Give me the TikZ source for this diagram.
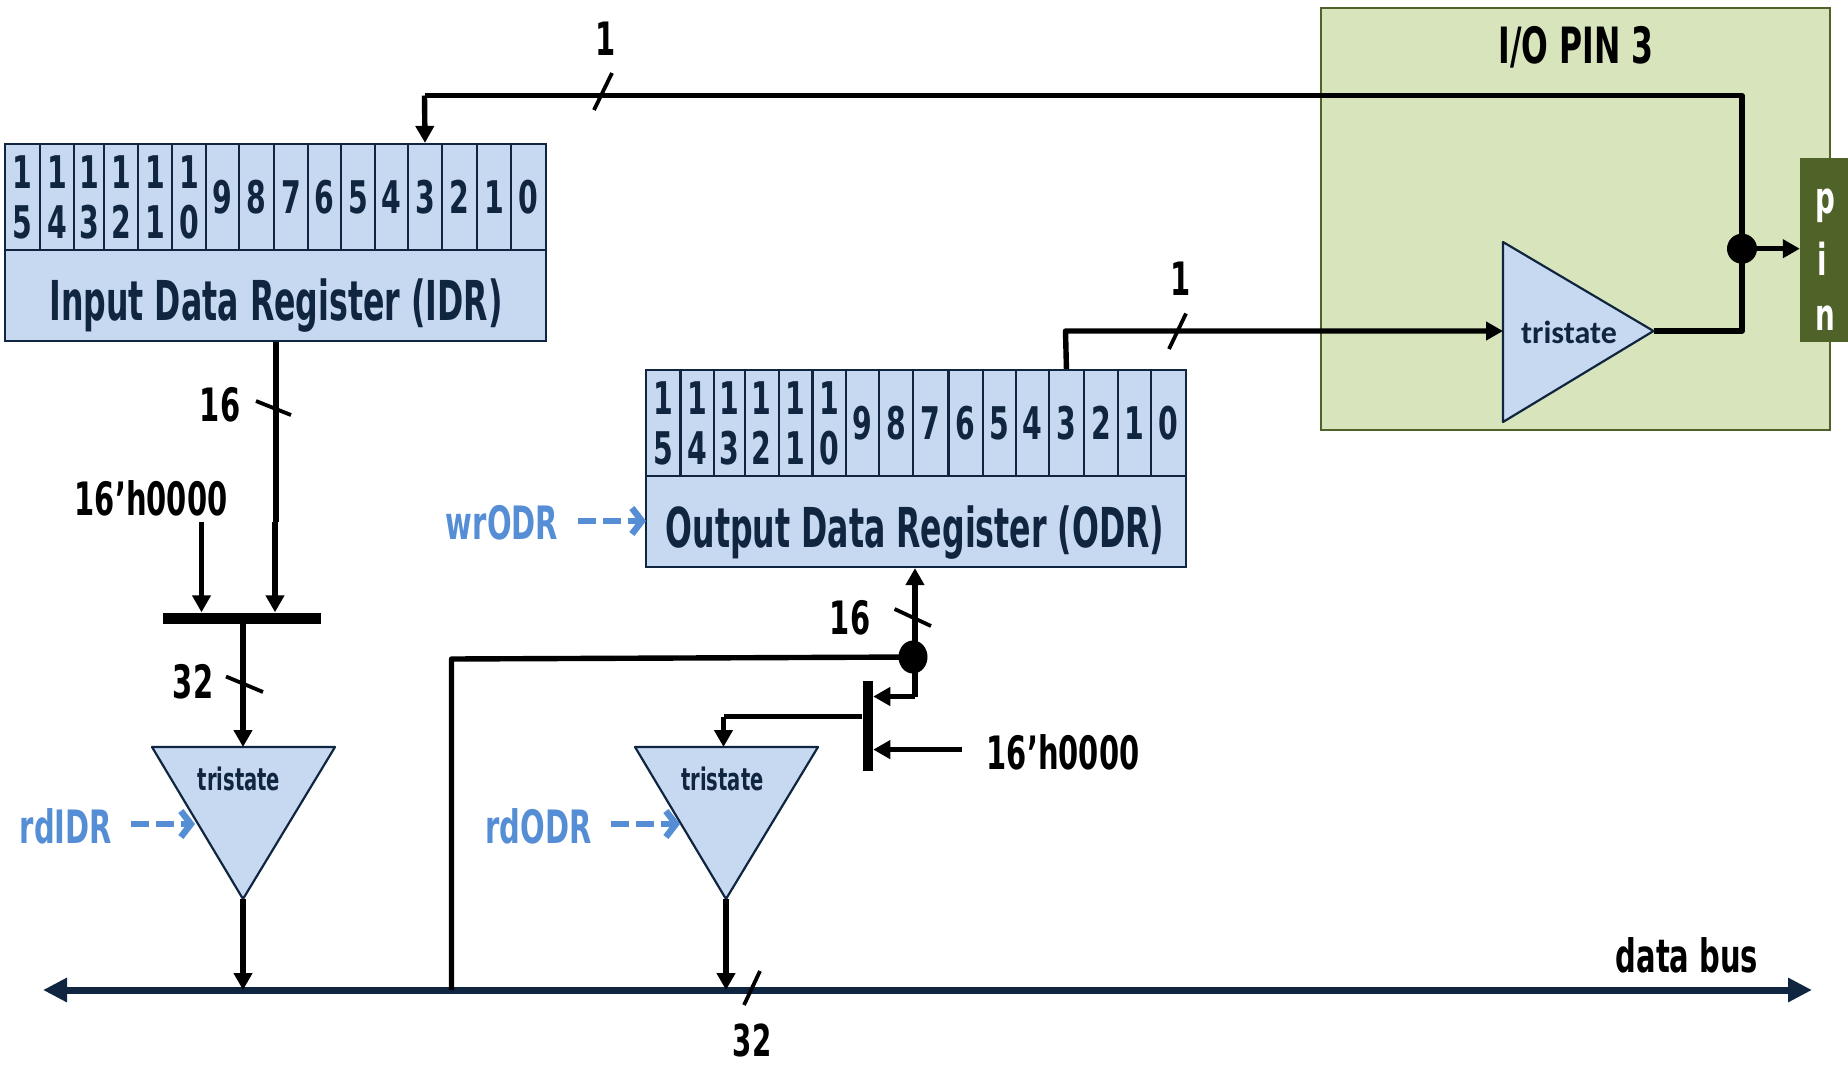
\documentclass[tikz,border=0pt]{standalone}
\usepackage{fontspec}
\usetikzlibrary{arrows.meta}
\setmainfont{DejaVu Sans}
\newfontfamily\cond[FakeStretch=0.63]{DejaVu Sans}
\newfontfamily\condt[FakeStretch=0.575]{DejaVu Sans}
\newfontfamily\calib{Carlito}
\newcommand{\fsz}[1]{\fontsize{#1}{#1}\selectfont}
\definecolor{regfill}{HTML}{C6D9F1}
\definecolor{navy}{HTML}{10253F}
\definecolor{greenfill}{HTML}{D7E4BC}
\definecolor{pingreen}{HTML}{4F6228}
\definecolor{sigblue}{HTML}{558ED5}
\tikzset{
  wire/.style={line width=5.4pt,line join=round},
  arrowwire/.style={wire,-{Triangle[length=17pt,width=18pt]}},
  slashmark/.style={line width=3.8pt},
  dashsig/.style={line width=6.5pt,sigblue,dash pattern=on 18pt off 7pt,-{Straight Barb[length=10pt,width=26pt,line width=6.5pt]},shorten >=1pt},
  regbox/.style={draw=navy,line width=2.2pt,fill=regfill,inner sep=0pt},
  regtitle/.style={text=navy,font=\condt\bfseries\fsz{55},inner sep=0pt,anchor=base},
  celltext/.style={regbox,text=navy,align=center,font=\cond\bfseries\fontsize{45}{50}\selectfont},
  gate/.style={draw=navy,line width=2.2pt,fill=regfill,line join=round},
  blk/.style={text=black,font=\cond\bfseries\fsz{46},inner sep=0pt},
  sig/.style={text=sigblue,font=\cond\bfseries\fsz{46},inner sep=0pt},
  dotnode/.style={fill=black,ellipse,inner sep=0pt,draw=none},
}
\usetikzlibrary{shapes.geometric}
\newcommand{\regcell}[6]{% name x0 x1 y0 y1 text
  \pgfmathsetmacro{\cx}{(#2+#3)/2}\pgfmathsetmacro{\cy}{(#4+#5)/2}
  \pgfmathsetmacro{\cw}{#3-#2}\pgfmathsetmacro{\ch}{#5-#4}
  \node[celltext,minimum width=\cw pt,minimum height=\ch pt] (#1) at (\cx,\cy) {#6};}
\begin{document}
\begin{tikzpicture}[x=1pt,y=-1pt]
\useasboundingbox (0,0) rectangle (1848,1066);
% I/O pin block
\node[draw=pingreen,line width=2.5pt,fill=greenfill,minimum width=509pt,minimum height=422pt,inner sep=0pt] (iopin) at (1575.5,219) {};
\node[blk,font=\cond\bfseries\fsz{50}] (iotitle) at (1576,47) {I/O PIN 3};
\node[fill=pingreen,minimum width=48pt,minimum height=184pt,inner sep=0pt] (pinbox) at (1824,250) {};
\node[text=white,font=\cond\bfseries\fsz{44},inner sep=0pt] (pinp) at (1825,206) {p};
\node[text=white,font=\cond\bfseries\fsz{44},inner sep=0pt] (pini) at (1822,259) {i};
\node[text=white,font=\cond\bfseries\fsz{44},inner sep=0pt] (pinn) at (1825,318) {n};
% IDR
\node[regbox,minimum width=541pt,minimum height=91pt] (idr) at (275.5,295.5) {};
\node[regtitle] (idrtext) at (276,320) {Input Data Register (IDR)};
\def\yA{144}\def\yB{250}
\regcell{ia15}{5}{40}{\yA}{\yB}{1\\5}
\regcell{ia14}{40}{74}{\yA}{\yB}{1\\4}
\regcell{ia13}{74}{104}{\yA}{\yB}{1\\3}
\regcell{ia12}{104}{138}{\yA}{\yB}{1\\2}
\regcell{ia11}{138}{172}{\yA}{\yB}{1\\1}
\regcell{ia10}{172}{206}{\yA}{\yB}{1\\0}
\regcell{ia9}{206}{239}{\yA}{\yB}{9}
\regcell{ia8}{239}{274}{\yA}{\yB}{8}
\regcell{ia7}{274}{308}{\yA}{\yB}{7}
\regcell{ia6}{308}{341}{\yA}{\yB}{6}
\regcell{ia5}{341}{375}{\yA}{\yB}{5}
\regcell{ia4}{375}{408}{\yA}{\yB}{4}
\regcell{ia3}{408}{442}{\yA}{\yB}{3}
\regcell{ia2}{442}{477}{\yA}{\yB}{2}
\regcell{ia1}{477}{511}{\yA}{\yB}{1}
\regcell{ia0}{511}{546}{\yA}{\yB}{0}
% ODR
\node[regbox,minimum width=540.4pt,minimum height=91pt] (odr) at (915.8,521.5) {};
\node[regtitle] (odrtext) at (915,547) {Output Data Register (ODR)};
\def\yA{370}\def\yB{476}
\regcell{oa15}{645.6}{680.5}{\yA}{\yB}{1\\5}
\regcell{oa14}{680.5}{713.9}{\yA}{\yB}{1\\4}
\regcell{oa13}{713.9}{744.7}{\yA}{\yB}{1\\3}
\regcell{oa12}{744.7}{778.6}{\yA}{\yB}{1\\2}
\regcell{oa11}{778.6}{812.5}{\yA}{\yB}{1\\1}
\regcell{oa10}{812.5}{845.8}{\yA}{\yB}{1\\0}
\regcell{oa9}{845.8}{879.2}{\yA}{\yB}{9}
\regcell{oa8}{879.2}{913}{\yA}{\yB}{8}
\regcell{oa7}{913}{948.4}{\yA}{\yB}{7}
\regcell{oa6}{948.4}{982.8}{\yA}{\yB}{6}
\regcell{oa5}{982.8}{1015.7}{\yA}{\yB}{5}
\regcell{oa4}{1015.7}{1049}{\yA}{\yB}{4}
\regcell{oa3}{1049}{1083.9}{\yA}{\yB}{3}
\regcell{oa2}{1083.9}{1118.2}{\yA}{\yB}{2}
\regcell{oa1}{1118.2}{1151}{\yA}{\yB}{1}
\regcell{oa0}{1151}{1186}{\yA}{\yB}{0}
% Coordinates
\coordinate (fbk) at (1742,95.5);
\coordinate (fbl) at (424.5,95.5);
\coordinate (buf) at (1503,331);
\coordinate (bufout) at (1653.5,331);
\coordinate (bufcorner) at (1742,331);
\coordinate (odrcorner) at (1065.5,331);
\coordinate (t1l) at (152,747); \coordinate (t1r) at (335,747); \coordinate (t1b) at (243,899); \coordinate (t1t) at (243,747);
\coordinate (t2l) at (635,747); \coordinate (t2r) at (818,747); \coordinate (t2b) at (726,899); \coordinate (t2t) at (723.5,747);
\coordinate (busl) at (43,990); \coordinate (busr) at (1812,990);
% Tristates
\draw[gate] (buf |- 0,242) coordinate (bt) -- (bufout) -- (buf |- 0,422) coordinate (bb) -- cycle;
\node[text=navy,font=\calib\bfseries\fsz{32},inner sep=0pt] (tri0) at (1569,332) {tristate};
\draw[gate] (t1l) -- (t1r) -- (t1b) -- cycle;
\node[text=navy,font=\cond\bfseries\fsz{31},inner sep=0pt] (tri1) at (239,779) {tristate};
\draw[gate] (t2l) -- (t2r) -- (t2b) -- cycle;
\node[text=navy,font=\cond\bfseries\fsz{31},inner sep=0pt] (tri2) at (722.5,779) {tristate};
% Bus
\draw[line width=7pt,navy,{Triangle[length=24pt,width=23pt]}-{Triangle[length=24pt,width=23pt]}] (busl) -- (busr);
\node[blk] (dbus) at (1687,955) {data bus};
% Merge bars
\node[fill=black,minimum width=158pt,minimum height=11pt,inner sep=0pt] (bar1) at (241.6,618) {};
\node[fill=black,minimum width=10.5pt,minimum height=90pt,inner sep=0pt] (bar2) at (867.8,726) {};
% Dots
\node[dotnode,minimum width=30pt,minimum height=30pt] (dot1) at (1742,248.7) {};
\node[dotnode,minimum width=29pt,minimum height=33pt] (dot2) at (913,657) {};
% Feedback wire
\draw[wire] (dot1.center) -- (fbk) -- (fbl);
\draw[arrowwire] (fbl) -- (ia3.north);
\draw[wire] (bufout) -- (bufcorner) -- (dot1.center);
\draw[arrowwire] (dot1.center) -- (pinbox.west |- dot1);
\draw[arrowwire] (oa3.north) -- (odrcorner) -- (buf);
% Feedback slashes
\coordinate (s1a) at (594,110); \coordinate (s1b) at (612,73);
\draw[slashmark] (s1a) -- (s1b);
\node[blk] (lab1a) at (606,39) {1};
\coordinate (s2a) at (1169,349); \coordinate (s2b) at (1186,313.5);
\draw[slashmark] (s2a) -- (s2b);
\node[blk] (lab1b) at (1181,279) {1};
% IDR to merge
\draw[wire] (idr.south -| 276,0) -- (276,522);
\coordinate (m1) at (275,522);
\draw[arrowwire] (m1) -- (m1 |- bar1.north);
\coordinate (s3a) at (256,401); \coordinate (s3b) at (291,415);
\draw[slashmark] (s3a) -- (s3b);
\node[blk] (lab16a) at (220,405) {16};
\node[blk] (zero1) at (151,498.5) {16’h0000};
\coordinate (z1) at (201.5,522);
\draw[arrowwire] (z1) -- (z1 |- bar1.north);
\draw[arrowwire] (bar1.south -| t1t) -- (t1t);
\coordinate (s4a) at (226,676.5); \coordinate (s4b) at (263,692);
\draw[slashmark] (s4a) -- (s4b);
\node[blk] (lab32a) at (193,682) {32};
\draw[arrowwire] (t1b) -- (t1b |- busl);
% rd / wr signals
\node[sig] (rdidr) at (66,826) {rdIDR};
\coordinate (d1a) at (131,824); \coordinate (d1b) at (196,824);
\draw[dashsig] (d1a) -- (d1b);
\node[sig] (rdodr) at (538.6,826) {rdODR};
\coordinate (d2a) at (610.5,824); \coordinate (d2b) at (681,824);
\draw[dashsig] (d2a) -- (d2b);
\node[sig] (wrodr) at (502,523) {wrODR};
\coordinate (d3a) at (577.5,521); \coordinate (d3b) at (647,521);
\draw[dashsig] (d3a) -- (d3b);
% Bus to ODR
\coordinate (busj) at (451.5,990);
\draw[wire] (busj) -- (451.5,659) -- (dot2.center);
\coordinate (v2) at (915,657);
\draw[arrowwire] (v2) -- (odr.south -| v2);
\draw[wire] (v2) -- (915,696.5);
\draw[arrowwire] (915,696.5) -- (bar2.east |- 0,696.5);
\coordinate (s5a) at (894.6,609); \coordinate (s5b) at (931,626);
\draw[slashmark] (s5a) -- (s5b);
\node[blk] (lab16b) at (850,617.6) {16};
\coordinate (m2) at (723.5,716.6);
\draw[wire] (bar2.west |- m2) -- (m2);
\draw[arrowwire] (m2) -- (t2t);
\node[blk] (zero2) at (1063,752) {16’h0000};
\coordinate (z2) at (962,749.6);
\draw[arrowwire] (z2) -- (bar2.east |- z2);
\draw[arrowwire] (t2b) -- (t2b |- busl);
\coordinate (s6a) at (744,1005); \coordinate (s6b) at (760,971);
\draw[slashmark] (s6a) -- (s6b);
\node[blk,font=\cond\bfseries\fsz{44}] (lab32b) at (752,1040) {32};
\end{tikzpicture}
\end{document}
